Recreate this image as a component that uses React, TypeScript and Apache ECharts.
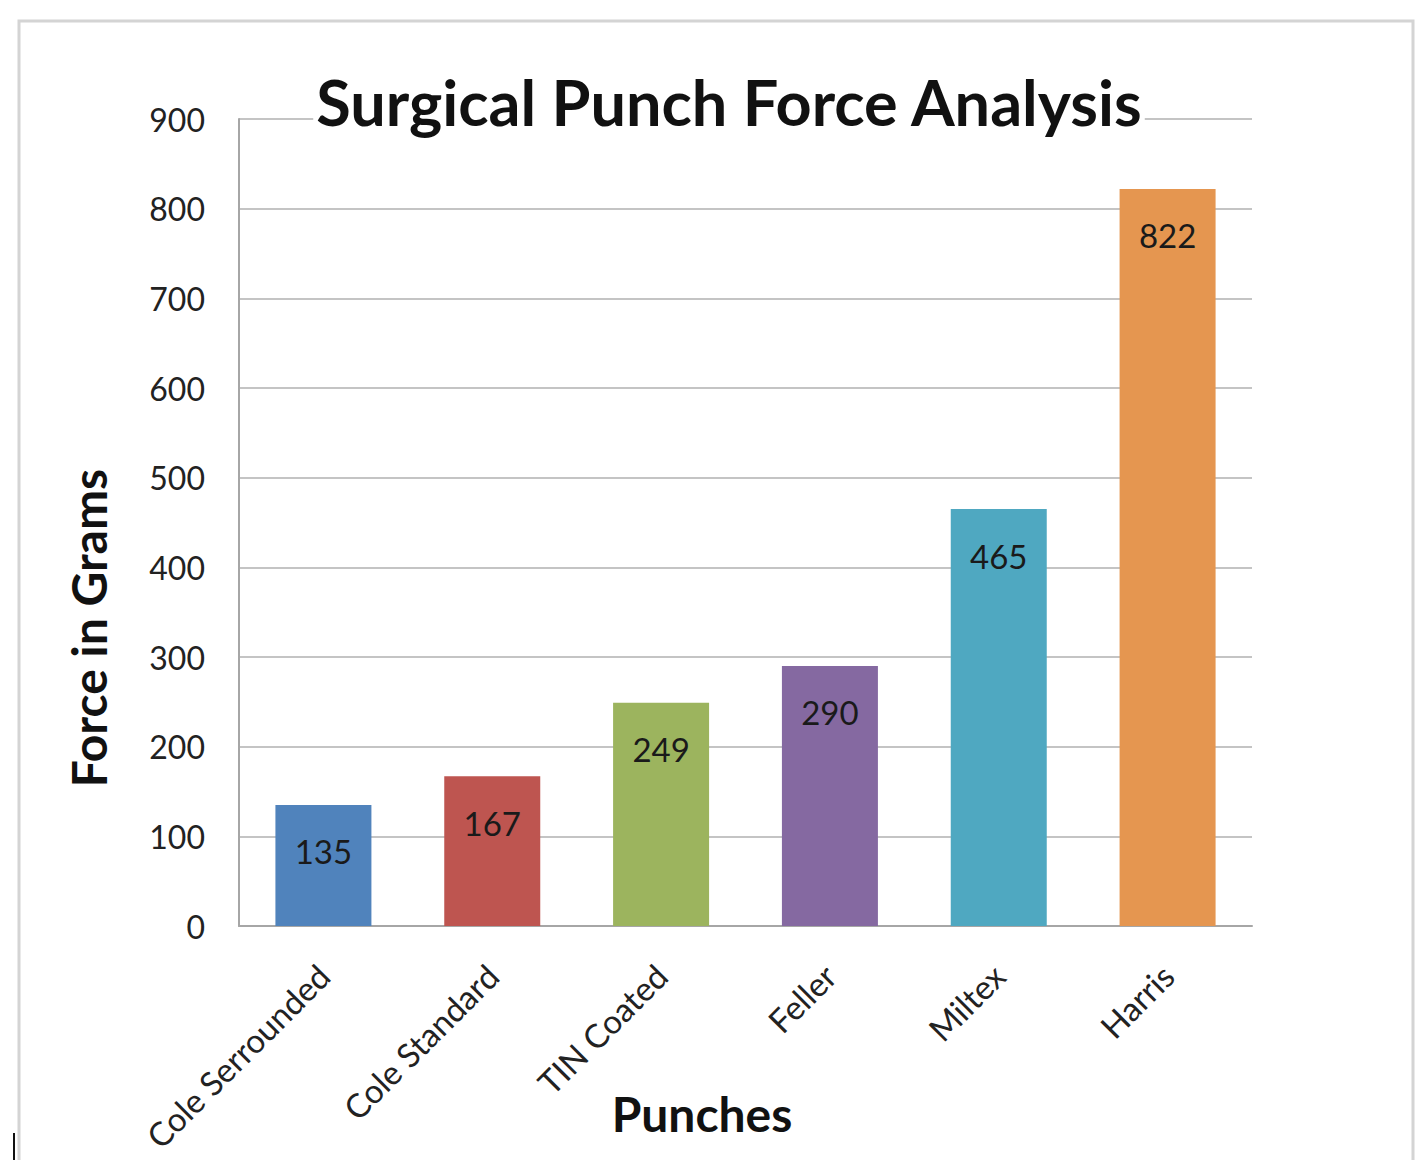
import React, { useEffect, useRef } from "react";
import * as echarts from "echarts";

const categories = ["Cole Serrounded", "Cole Standard", "TIN Coated", "Feller", "Miltex", "Harris"];
const forces = [135, 167, 249, 290, 465, 822];
const barColors = ["#5083BC", "#BE5550", "#9CB45E", "#8569A1", "#4FA8C1", "#E59650"];
const yTicks = [0, 100, 200, 300, 400, 500, 600, 700, 800, 900];
const titleText = "Surgical Punch Force Analysis";
const yAxisTitle = "Force in Grams";
const xAxisTitle = "Punches";

const FONT = "Lato, 'Open Sans', sans-serif";

export default function App() {
  const ref = useRef<HTMLDivElement>(null);
  useEffect(() => {
    if (!ref.current) return;
    const chart = echarts.init(ref.current, undefined, { renderer: "svg" });
    chart.setOption({
      animation: false,
      backgroundColor: "#ffffff",
      title: {
        text: titleText,
        left: 727,
        top: 70,
        textAlign: "center",
        backgroundColor: "#ffffff",
        padding: [0, 2],
        textStyle: { fontFamily: FONT, fontWeight: "bold", fontSize: 63, color: "#111" },
      },
      grid: { left: 239, right: 164, top: 119, bottom: 234, containLabel: false },
      xAxis: {
        type: "category",
        data: categories,
        axisLine: { show: true, lineStyle: { color: "#a6a6a6", width: 2 } },
        axisTick: { show: false },
        axisLabel: {
          rotate: 45,
          interval: 0,
          margin: 44,
          fontFamily: FONT,
          fontSize: 33,
          color: "#222",
        },
      },
      yAxis: {
        type: "value",
        min: yTicks[0],
        max: yTicks[yTicks.length - 1],
        interval: 100,
        axisLine: { show: true, lineStyle: { color: "#a6a6a6", width: 2 } },
        axisTick: { show: false },
        axisLabel: {
          margin: 34,
          fontFamily: FONT,
          fontSize: 32,
          color: "#222",
          padding: [14, 0, 0, 0],
        },
        splitLine: { show: true, lineStyle: { color: "#c4c4c4", width: 2 } },
      },
      series: [
        {
          type: "bar",
          data: forces.map((v, i) => ({ value: v, itemStyle: { color: barColors[i] } })),
          barWidth: 96,
          label: {
            show: true,
            position: "insideTop",
            distance: 30,
            fontFamily: FONT,
            fontSize: 33,
            color: "#1a1a1a",
          },
        },
      ],
      graphic: [
        {
          type: "rect",
          shape: { x: 19, y: 21, width: 1394, height: 1200 },
          style: { fill: "none", stroke: "#d4d4d4", lineWidth: 3 },
          silent: true,
          z: -1,
        },
        {
          type: "line",
          shape: { x1: 14, y1: 1133, x2: 14, y2: 1160 },
          style: { stroke: "#111", lineWidth: 2 },
          silent: true,
        },
        {
          type: "text",
          x: 88,
          y: 628,
          rotation: Math.PI / 2,
          style: {
            text: yAxisTitle,
            fontFamily: FONT,
            fontWeight: "bold",
            fontSize: 48,
            fill: "#111",
            align: "center",
            verticalAlign: "middle",
          },
        },
        {
          type: "text",
          x: 702,
          y: 1113,
          style: {
            text: xAxisTitle,
            fontFamily: FONT,
            fontWeight: "bold",
            fontSize: 48,
            fill: "#111",
            align: "center",
            verticalAlign: "middle",
          },
        },
      ],
    });
    return () => chart.dispose();
  }, []);
  return (
    <div
      ref={ref}
      style={{ position: "fixed", left: 0, top: 0, width: 1416, height: 1160 }}
    />
  );
}
